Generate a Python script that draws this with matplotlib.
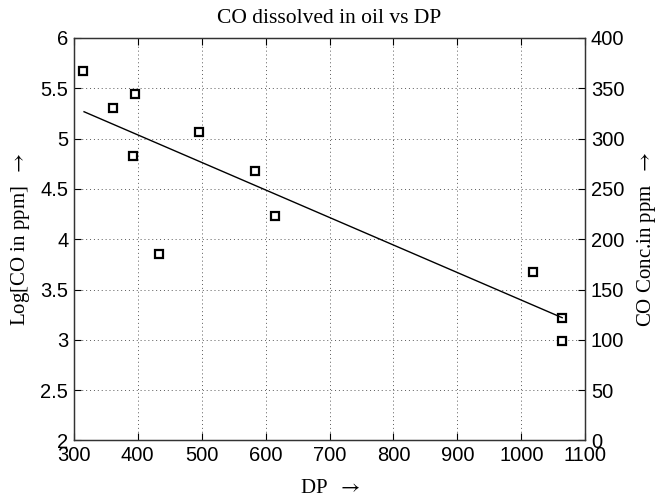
import matplotlib
matplotlib.use("Agg")
import matplotlib.pyplot as plt

dp = [315, 362, 395, 393, 434, 496, 583, 614, 1019, 1064, 1063]
log_co = [5.675, 5.307, 5.44, 4.827, 3.85, 5.069, 4.68, 4.228, 3.67, 3.22, 2.99]

fit_dp = [316, 1064]
fit_log_co = [5.267, 3.22]

x_ticks = [300, 400, 500, 600, 700, 800, 900, 1000, 1100]
left_ticks = [2, 2.5, 3, 3.5, 4, 4.5, 5, 5.5, 6]
left_tick_labels = ["2", "2.5", "3", "3.5", "4", "4.5", "5", "5.5", "6"]
right_ticks = [0, 50, 100, 150, 200, 250, 300, 350, 400]

SANS = "Liberation Sans"
SERIF = "Liberation Serif"
plt.rcParams["font.family"] = SANS
plt.rcParams["mathtext.fontset"] = "stix"

fig = plt.figure(figsize=(6.65, 5.01), dpi=100)
ax = fig.add_axes([0.111, 0.1208, 0.769, 0.8034])

ax.plot(dp, log_co, linestyle="none", marker="s", markersize=5.5,
        markerfacecolor="white", markeredgecolor="black", markeredgewidth=1.6)
ax.plot(fit_dp, fit_log_co, color="black", linewidth=1.0)

ax.set_xlim(300, 1100)
ax.set_ylim(2, 6)
ax.set_xticks(x_ticks)
ax.set_yticks(left_ticks)
ax.set_yticklabels(left_tick_labels)
ax.grid(True, linestyle=(0, (1, 3)), color="0.35", linewidth=0.7)
ax.tick_params(direction="in", length=5, width=0.8, labelsize=14.5,
               top=True, right=False, pad=4)
for spine in ax.spines.values():
    spine.set_linewidth(0.9)
    spine.set_color("0.2")

ax2 = ax.twinx()
ax2.set_ylim(0, 400)
ax2.set_yticks(right_ticks)
ax2.tick_params(direction="in", length=5, width=0.8, labelsize=14.5, pad=4)
for spine in ax2.spines.values():
    spine.set_linewidth(0.9)
    spine.set_color("0.2")

ax.set_title("CO dissolved in oil vs DP", family=SERIF, fontsize=15.5, pad=11)
ax.set_xlabel("DP  $\\rightarrow$", family=SERIF, fontsize=15, labelpad=10)
ax.set_ylabel("Log[CO in ppm]  $\\rightarrow$", family=SERIF, fontsize=15, labelpad=6)
ax2.set_ylabel("CO Conc.in ppm  $\\rightarrow$", family=SERIF, fontsize=15, labelpad=8)

fig.savefig("out.png", dpi=100, facecolor="white")
plt.close(fig)
